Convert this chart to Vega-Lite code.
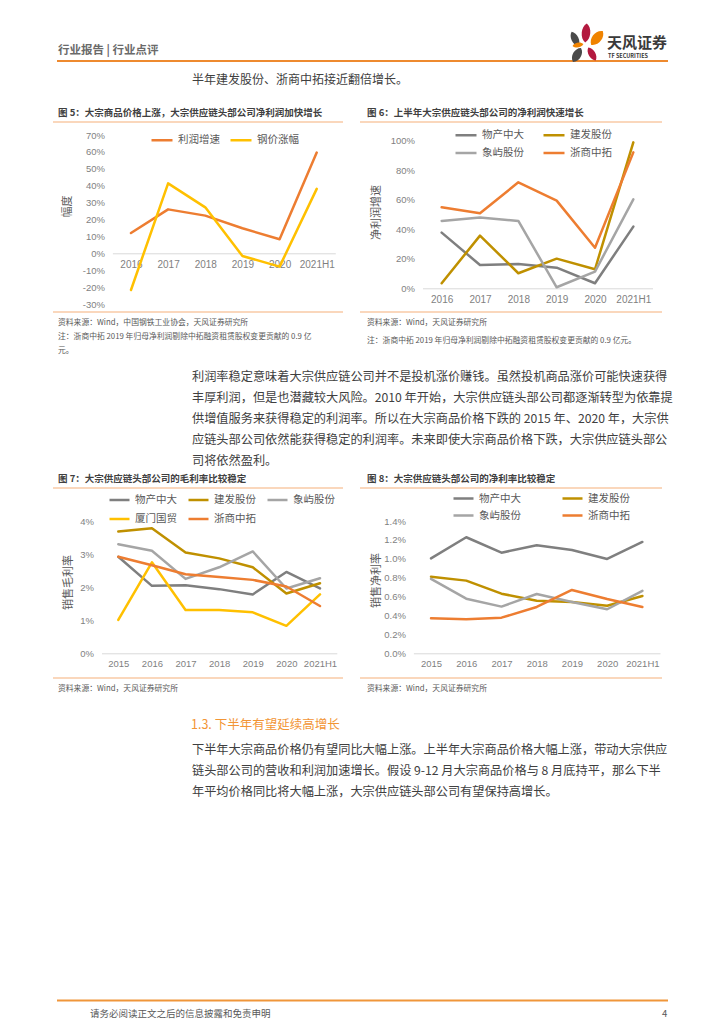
{
  "$schema": "https://vega.github.io/schema/vega-lite/v6.json",
  "width": 724,
  "height": 1024,
  "autosize": {"type": "none"},
  "padding": 0,
  "background": "white",
  "config": {
    "font": "Noto Sans CJK SC",
    "view": {"stroke": null},
    "locale": {"number": {"decimal": ".", "thousands": ",", "grouping": [3], "currency": ["", ""], "minus": "-"}},
    "line": {"strokeWidth": 2.5, "strokeJoin": "round", "strokeCap": "round"},
    "axis": {"grid": false, "ticks": false, "tickSize": 0, "labelFont": "Liberation Sans", "labelColor": "#7f7f7f", "titleFont": "Noto Sans CJK SC", "titleColor": "#595959", "titleFontWeight": "normal", "titleFontSize": 11},
    "legend": {"orient": "none", "title": null, "symbolType": "stroke", "symbolStrokeWidth": 3, "symbolSize": 441, "labelFont": "Noto Sans CJK SC", "labelFontSize": 10.5, "labelColor": "#595959", "labelOffset": 4, "padding": 0, "direction": "horizontal"}
  },
  "datasets": {
    "fig5": [
      {"year": "2016", "series": "利润增速", "value": 0.12},
      {"year": "2017", "series": "利润增速", "value": 0.26},
      {"year": "2018", "series": "利润增速", "value": 0.223},
      {"year": "2019", "series": "利润增速", "value": 0.148},
      {"year": "2020", "series": "利润增速", "value": 0.083},
      {"year": "2021H1", "series": "利润增速", "value": 0.596},
      {"year": "2016", "series": "钢价涨幅", "value": -0.217},
      {"year": "2017", "series": "钢价涨幅", "value": 0.414},
      {"year": "2018", "series": "钢价涨幅", "value": 0.272},
      {"year": "2019", "series": "钢价涨幅", "value": -0.016},
      {"year": "2020", "series": "钢价涨幅", "value": -0.079},
      {"year": "2021H1", "series": "钢价涨幅", "value": 0.381}
    ],
    "fig6": [
      {"year": "2016", "series": "物产中大", "value": 0.377},
      {"year": "2017", "series": "物产中大", "value": 0.158},
      {"year": "2018", "series": "物产中大", "value": 0.165},
      {"year": "2019", "series": "物产中大", "value": 0.14},
      {"year": "2020", "series": "物产中大", "value": 0.034},
      {"year": "2021H1", "series": "物产中大", "value": 0.418},
      {"year": "2016", "series": "建发股份", "value": 0.034},
      {"year": "2017", "series": "建发股份", "value": 0.357},
      {"year": "2018", "series": "建发股份", "value": 0.102},
      {"year": "2019", "series": "建发股份", "value": 0.201},
      {"year": "2020", "series": "建发股份", "value": 0.129},
      {"year": "2021H1", "series": "建发股份", "value": 0.989},
      {"year": "2016", "series": "象屿股份", "value": 0.456},
      {"year": "2017", "series": "象屿股份", "value": 0.479},
      {"year": "2018", "series": "象屿股份", "value": 0.456},
      {"year": "2019", "series": "象屿股份", "value": 0.007},
      {"year": "2020", "series": "象屿股份", "value": 0.113},
      {"year": "2021H1", "series": "象屿股份", "value": 0.603},
      {"year": "2016", "series": "浙商中拓", "value": 0.549},
      {"year": "2017", "series": "浙商中拓", "value": 0.508},
      {"year": "2018", "series": "浙商中拓", "value": 0.718},
      {"year": "2019", "series": "浙商中拓", "value": 0.594},
      {"year": "2020", "series": "浙商中拓", "value": 0.275},
      {"year": "2021H1", "series": "浙商中拓", "value": 0.921}
    ],
    "fig7": [
      {"year": "2015", "series": "物产中大", "value": 0.0292},
      {"year": "2016", "series": "物产中大", "value": 0.0204},
      {"year": "2017", "series": "物产中大", "value": 0.0206},
      {"year": "2018", "series": "物产中大", "value": 0.0194},
      {"year": "2019", "series": "物产中大", "value": 0.0178},
      {"year": "2020", "series": "物产中大", "value": 0.0246},
      {"year": "2021H1", "series": "物产中大", "value": 0.0196},
      {"year": "2015", "series": "建发股份", "value": 0.0368},
      {"year": "2016", "series": "建发股份", "value": 0.0378},
      {"year": "2017", "series": "建发股份", "value": 0.0305},
      {"year": "2018", "series": "建发股份", "value": 0.0287},
      {"year": "2019", "series": "建发股份", "value": 0.026},
      {"year": "2020", "series": "建发股份", "value": 0.0181},
      {"year": "2021H1", "series": "建发股份", "value": 0.0212},
      {"year": "2015", "series": "象屿股份", "value": 0.033},
      {"year": "2016", "series": "象屿股份", "value": 0.031},
      {"year": "2017", "series": "象屿股份", "value": 0.0225},
      {"year": "2018", "series": "象屿股份", "value": 0.026},
      {"year": "2019", "series": "象屿股份", "value": 0.0308},
      {"year": "2020", "series": "象屿股份", "value": 0.0196},
      {"year": "2021H1", "series": "象屿股份", "value": 0.0227},
      {"year": "2015", "series": "厦门国贸", "value": 0.0101},
      {"year": "2016", "series": "厦门国贸", "value": 0.0275},
      {"year": "2017", "series": "厦门国贸", "value": 0.0131},
      {"year": "2018", "series": "厦门国贸", "value": 0.0131},
      {"year": "2019", "series": "厦门国贸", "value": 0.0124},
      {"year": "2020", "series": "厦门国贸", "value": 0.0083},
      {"year": "2021H1", "series": "厦门国贸", "value": 0.0178},
      {"year": "2015", "series": "浙商中拓", "value": 0.0292},
      {"year": "2016", "series": "浙商中拓", "value": 0.0266},
      {"year": "2017", "series": "浙商中拓", "value": 0.0239},
      {"year": "2018", "series": "浙商中拓", "value": 0.0231},
      {"year": "2019", "series": "浙商中拓", "value": 0.0222},
      {"year": "2020", "series": "浙商中拓", "value": 0.0202},
      {"year": "2021H1", "series": "浙商中拓", "value": 0.0143}
    ],
    "fig8": [
      {"year": "2015", "series": "物产中大", "value": 0.01005},
      {"year": "2016", "series": "物产中大", "value": 0.01228},
      {"year": "2017", "series": "物产中大", "value": 0.01065},
      {"year": "2018", "series": "物产中大", "value": 0.01143},
      {"year": "2019", "series": "物产中大", "value": 0.01093},
      {"year": "2020", "series": "物产中大", "value": 0.00998},
      {"year": "2021H1", "series": "物产中大", "value": 0.01178},
      {"year": "2015", "series": "建发股份", "value": 0.00811},
      {"year": "2016", "series": "建发股份", "value": 0.00769},
      {"year": "2017", "series": "建发股份", "value": 0.00631},
      {"year": "2018", "series": "建发股份", "value": 0.00557},
      {"year": "2019", "series": "建发股份", "value": 0.00543},
      {"year": "2020", "series": "建发股份", "value": 0.00504},
      {"year": "2021H1", "series": "建发股份", "value": 0.00607},
      {"year": "2015", "series": "象屿股份", "value": 0.00787},
      {"year": "2016", "series": "象屿股份", "value": 0.00578},
      {"year": "2017", "series": "象屿股份", "value": 0.00494},
      {"year": "2018", "series": "象屿股份", "value": 0.00628},
      {"year": "2019", "series": "象屿股份", "value": 0.00543},
      {"year": "2020", "series": "象屿股份", "value": 0.00466},
      {"year": "2021H1", "series": "象屿股份", "value": 0.0066},
      {"year": "2015", "series": "浙商中拓", "value": 0.0037},
      {"year": "2016", "series": "浙商中拓", "value": 0.0036},
      {"year": "2017", "series": "浙商中拓", "value": 0.00377},
      {"year": "2018", "series": "浙商中拓", "value": 0.0049},
      {"year": "2019", "series": "浙商中拓", "value": 0.0067},
      {"year": "2020", "series": "浙商中拓", "value": 0.00575},
      {"year": "2021H1", "series": "浙商中拓", "value": 0.0049}
    ]
  },
  "layer": [
    {"data": {"values": [{}]}, "mark": {"type": "text", "text": "行业报告 | 行业点评", "align": "left", "baseline": "middle", "fontSize": 11.5, "fontWeight": "bold", "color": "#6a6a6a"}, "encoding": {"x": {"value": 58}, "y": {"value": 51}}},
    {"data": {"values": [{}]}, "mark": {"type": "rule", "color": "#EE8A2F", "strokeWidth": 2}, "encoding": {"x": {"value": 57}, "x2": {"value": 668}, "y": {"value": 61}}},
    {"data": {"values": [{}]}, "mark": {"type": "point", "shape": "M0,-1C0.6,-0.6 0.6,0.6 0,1C-0.6,0.6 -0.6,-0.6 0,-1Z", "filled": true, "color": "#B3193F", "opacity": 1, "size": 361, "angle": 5}, "encoding": {"x": {"value": 586}, "y": {"value": 33}}},
    {"data": {"values": [{}]}, "mark": {"type": "point", "shape": "M0,-1C0.6,-0.6 0.6,0.6 0,1C-0.6,0.6 -0.6,-0.6 0,-1Z", "filled": true, "color": "#4A4A4A", "opacity": 1, "size": 256, "angle": -25}, "encoding": {"x": {"value": 575}, "y": {"value": 39}}},
    {"data": {"values": [{}]}, "mark": {"type": "point", "shape": "M0,-1C0.7,-0.6 0.7,0.6 0,1C-0.7,0.6 -0.7,-0.6 0,-1Z", "filled": true, "color": "#F08300", "opacity": 1, "size": 324, "angle": 40}, "encoding": {"x": {"value": 597}, "y": {"value": 38}}},
    {"data": {"values": [{}]}, "mark": {"type": "point", "shape": "M0,-1C0.6,-0.6 0.6,0.6 0,1C-0.6,0.6 -0.6,-0.6 0,-1Z", "filled": true, "color": "#F08300", "opacity": 1, "size": 121, "angle": 80}, "encoding": {"x": {"value": 578}, "y": {"value": 45}}},
    {"data": {"values": [{}]}, "mark": {"type": "point", "shape": "M0,-1C0.6,-0.6 0.6,0.6 0,1C-0.6,0.6 -0.6,-0.6 0,-1Z", "filled": true, "color": "#B3193F", "opacity": 1, "size": 225, "angle": -30}, "encoding": {"x": {"value": 592}, "y": {"value": 54}}},
    {"data": {"values": [{}]}, "mark": {"type": "point", "shape": "M0,-1C0.7,-0.6 0.7,0.6 0,1C-0.7,0.6 -0.7,-0.6 0,-1Z", "filled": true, "color": "#4A4A4A", "opacity": 1, "size": 256, "angle": 30}, "encoding": {"x": {"value": 577}, "y": {"value": 55}}},
    {"data": {"values": [{}]}, "mark": {"type": "text", "text": "天风证券", "align": "left", "baseline": "middle", "fontSize": 15, "fontWeight": "bold", "color": "#3a3a3a"}, "encoding": {"x": {"value": 607}, "y": {"value": 43}}},
    {"data": {"values": [{}]}, "mark": {"type": "text", "text": "TF SECURITIES", "align": "left", "baseline": "middle", "fontSize": 5.5, "fontWeight": "bold", "color": "#3a3a3a"}, "encoding": {"x": {"value": 608}, "y": {"value": 55.5}}},
    {"data": {"values": [{}]}, "mark": {"type": "text", "text": "半年建发股份、浙商中拓接近翻倍增长。", "align": "left", "baseline": "middle", "fontSize": 12, "color": "#404040"}, "encoding": {"x": {"value": 192}, "y": {"value": 80}}},

    {"data": {"values": [{}]}, "mark": {"type": "text", "text": "图 5：大宗商品价格上涨，大宗供应链头部公司净利润加快增长", "align": "left", "baseline": "middle", "fontSize": 9.5, "fontWeight": "bold", "color": "#404040"}, "encoding": {"x": {"value": 58}, "y": {"value": 112.5}}},
    {"data": {"values": [{}]}, "mark": {"type": "text", "text": "图 6：上半年大宗供应链头部公司的净利润快速增长", "align": "left", "baseline": "middle", "fontSize": 9.5, "fontWeight": "bold", "color": "#404040"}, "encoding": {"x": {"value": 367}, "y": {"value": 112.5}}},
    {"data": {"values": [{}]}, "mark": {"type": "rule", "color": "#F5B07A", "strokeWidth": 1.2}, "encoding": {"x": {"value": 53}, "x2": {"value": 343}, "y": {"value": 122}}},
    {"data": {"values": [{}]}, "mark": {"type": "rule", "color": "#F5B07A", "strokeWidth": 1.2}, "encoding": {"x": {"value": 360}, "x2": {"value": 662}, "y": {"value": 122}}},
    {"data": {"values": [{}]}, "mark": {"type": "rule", "color": "#F5B07A", "strokeWidth": 1.2}, "encoding": {"x": {"value": 53}, "x2": {"value": 343}, "y": {"value": 312}}},
    {"data": {"values": [{}]}, "mark": {"type": "rule", "color": "#F5B07A", "strokeWidth": 1.2}, "encoding": {"x": {"value": 360}, "x2": {"value": 662}, "y": {"value": 312}}},
    {"data": {"values": [{}]}, "mark": {"type": "text", "text": "资料来源：Wind，中国钢铁工业协会，天风证券研究所", "align": "left", "baseline": "middle", "fontSize": 7.8, "color": "#595959"}, "encoding": {"x": {"value": 58}, "y": {"value": 323}}},
    {"data": {"values": [{}]}, "mark": {"type": "text", "text": "注：浙商中拓 2019 年归母净利润剔除中拓融资租赁股权变更贡献的 0.9 亿", "align": "left", "baseline": "middle", "fontSize": 7.8, "color": "#595959"}, "encoding": {"x": {"value": 58}, "y": {"value": 337}}},
    {"data": {"values": [{}]}, "mark": {"type": "text", "text": "元。", "align": "left", "baseline": "middle", "fontSize": 7.8, "color": "#595959"}, "encoding": {"x": {"value": 58}, "y": {"value": 351}}},
    {"data": {"values": [{}]}, "mark": {"type": "text", "text": "资料来源：Wind，天风证券研究所", "align": "left", "baseline": "middle", "fontSize": 7.8, "color": "#595959"}, "encoding": {"x": {"value": 367}, "y": {"value": 323}}},
    {"data": {"values": [{}]}, "mark": {"type": "text", "text": "注：浙商中拓 2019 年归母净利润剔除中拓融资租赁股权变更贡献的 0.9 亿元。", "align": "left", "baseline": "middle", "fontSize": 7.8, "color": "#595959"}, "encoding": {"x": {"value": 367}, "y": {"value": 341}}},

    {"data": {"values": [{}]}, "mark": {"type": "text", "text": "利润率稳定意味着大宗供应链公司并不是投机涨价赚钱。虽然投机商品涨价可能快速获得\n丰厚利润，但是也潜藏较大风险。2010 年开始，大宗供应链头部公司都逐渐转型为依靠提\n供增值服务来获得稳定的利润率。所以在大宗商品价格下跌的 2015 年、2020 年，大宗供\n应链头部公司依然能获得稳定的利润率。未来即使大宗商品价格下跌，大宗供应链头部公\n司将依然盈利。", "lineBreak": "\n", "lineHeight": 21, "align": "left", "baseline": "top", "fontSize": 12.2, "color": "#404040"}, "encoding": {"x": {"value": 192}, "y": {"value": 371}}},

    {"data": {"values": [{}]}, "mark": {"type": "text", "text": "图 7：大宗供应链头部公司的毛利率比较稳定", "align": "left", "baseline": "middle", "fontSize": 9.5, "fontWeight": "bold", "color": "#404040"}, "encoding": {"x": {"value": 58}, "y": {"value": 479}}},
    {"data": {"values": [{}]}, "mark": {"type": "text", "text": "图 8：大宗供应链头部公司的净利率比较稳定", "align": "left", "baseline": "middle", "fontSize": 9.5, "fontWeight": "bold", "color": "#404040"}, "encoding": {"x": {"value": 367}, "y": {"value": 479}}},
    {"data": {"values": [{}]}, "mark": {"type": "rule", "color": "#F5B07A", "strokeWidth": 1.2}, "encoding": {"x": {"value": 53}, "x2": {"value": 343}, "y": {"value": 488}}},
    {"data": {"values": [{}]}, "mark": {"type": "rule", "color": "#F5B07A", "strokeWidth": 1.2}, "encoding": {"x": {"value": 360}, "x2": {"value": 662}, "y": {"value": 488}}},
    {"data": {"values": [{}]}, "mark": {"type": "rule", "color": "#F5B07A", "strokeWidth": 1.2}, "encoding": {"x": {"value": 53}, "x2": {"value": 343}, "y": {"value": 678}}},
    {"data": {"values": [{}]}, "mark": {"type": "rule", "color": "#F5B07A", "strokeWidth": 1.2}, "encoding": {"x": {"value": 360}, "x2": {"value": 662}, "y": {"value": 678}}},
    {"data": {"values": [{}]}, "mark": {"type": "text", "text": "资料来源：Wind，天风证券研究所", "align": "left", "baseline": "middle", "fontSize": 7.8, "color": "#595959"}, "encoding": {"x": {"value": 58}, "y": {"value": 689}}},
    {"data": {"values": [{}]}, "mark": {"type": "text", "text": "资料来源：Wind，天风证券研究所", "align": "left", "baseline": "middle", "fontSize": 7.8, "color": "#595959"}, "encoding": {"x": {"value": 367}, "y": {"value": 689}}},

    {"data": {"values": [{}]}, "mark": {"type": "text", "text": "1.3. 下半年有望延续高增长", "align": "left", "baseline": "middle", "fontSize": 12.5, "color": "#F29535"}, "encoding": {"x": {"value": 191}, "y": {"value": 725}}},
    {"data": {"values": [{}]}, "mark": {"type": "text", "text": "下半年大宗商品价格仍有望同比大幅上涨。上半年大宗商品价格大幅上涨，带动大宗供应\n链头部公司的营收和利润加速增长。假设 9-12 月大宗商品价格与 8 月底持平，那么下半\n年平均价格同比将大幅上涨，大宗供应链头部公司有望保持高增长。", "lineBreak": "\n", "lineHeight": 21, "align": "left", "baseline": "top", "fontSize": 12.2, "color": "#404040"}, "encoding": {"x": {"value": 192}, "y": {"value": 744}}},

    {"data": {"values": [{}]}, "mark": {"type": "rule", "color": "#F0963A", "strokeWidth": 2}, "encoding": {"x": {"value": 57}, "x2": {"value": 668}, "y": {"value": 1000.5}}},
    {"data": {"values": [{}]}, "mark": {"type": "text", "text": "请务必阅读正文之后的信息披露和免责申明", "align": "left", "baseline": "middle", "fontSize": 9.5, "color": "#595959"}, "encoding": {"x": {"value": 90}, "y": {"value": 1014}}},
    {"data": {"values": [{}]}, "mark": {"type": "text", "text": "4", "align": "left", "baseline": "middle", "fontSize": 9.5, "color": "#595959"}, "encoding": {"x": {"value": 662}, "y": {"value": 1014}}},

    {
      "data": {"name": "fig5"},
      "mark": {"type": "line"},
      "encoding": {
        "x": {"field": "year", "type": "ordinal", "scale": {"type": "point", "domain": ["2016", "2017", "2018", "2019", "2020", "2021H1"], "range": [112.4, 335.3], "padding": 0.5},
              "axis": {"orient": "bottom", "offset": -770.7, "title": null, "domain": true, "domainColor": "#D9D9D9", "domainWidth": 1, "labelPadding": 6, "labelFontSize": 10, "labelAngle": 0}},
        "y": {"field": "value", "type": "quantitative", "scale": {"domain": [-0.3, 0.7], "range": [304, 135], "nice": false, "zero": false},
              "axis": {"orient": "left", "offset": -112.4, "values": [-0.3, -0.2, -0.1, 0, 0.1, 0.2, 0.3, 0.4, 0.5, 0.6, 0.7], "format": ".0%", "domain": false, "labelPadding": 8, "labelFontSize": 9.5, "title": "幅度", "titleX": -45, "titleY": 206, "titleAngle": 270, "titleAlign": "center", "titleBaseline": "middle"}},
        "color": {"field": "series", "type": "nominal", "scale": {"domain": ["利润增速", "钢价涨幅"], "range": ["#ED7D31", "#FFC000"]},
                  "legend": {"legendX": 150, "legendY": 128, "columns": 2, "columnPadding": 9}}
      }
    },
    {
      "data": {"name": "fig6"},
      "mark": {"type": "line"},
      "encoding": {
        "x": {"field": "year", "type": "ordinal", "scale": {"type": "point", "domain": ["2016", "2017", "2018", "2019", "2020", "2021H1"], "range": [422.5, 652.5], "padding": 0.5},
              "axis": {"orient": "bottom", "offset": -735.7, "title": null, "domain": true, "domainColor": "#D9D9D9", "domainWidth": 1, "labelPadding": 6, "labelFontSize": 10, "labelAngle": 0}},
        "y": {"field": "value", "type": "quantitative", "scale": {"domain": [0, 1], "range": [288.3, 140.7], "nice": false, "zero": false},
              "axis": {"orient": "left", "offset": -422.5, "values": [0, 0.2, 0.4, 0.6, 0.8, 1], "format": ".0%", "domain": false, "labelPadding": 8, "labelFontSize": 9.5, "title": "净利润增速", "titleX": -46.5, "titleY": 212, "titleAngle": 270, "titleAlign": "center", "titleBaseline": "middle"}},
        "color": {"field": "series", "type": "nominal", "scale": {"domain": ["物产中大", "建发股份", "象屿股份", "浙商中拓"], "range": ["#7F7F7F", "#BF9000", "#A5A5A5", "#ED7D31"]},
                  "legend": {"legendX": 454, "legendY": 123, "columns": 2, "columnPadding": 18, "rowPadding": -1}}
      }
    },
    {
      "data": {"name": "fig7"},
      "mark": {"type": "line"},
      "encoding": {
        "x": {"field": "year", "type": "ordinal", "scale": {"type": "point", "domain": ["2015", "2016", "2017", "2018", "2019", "2020", "2021H1"], "range": [101.5, 336.8], "padding": 0.5},
              "axis": {"orient": "bottom", "offset": -370.7, "title": null, "domain": true, "domainColor": "#D9D9D9", "domainWidth": 1, "labelPadding": 5, "labelFontSize": 9.5, "labelAngle": 0}},
        "y": {"field": "value", "type": "quantitative", "scale": {"domain": [0, 0.04], "range": [653.3, 521], "nice": false, "zero": false},
              "axis": {"orient": "left", "offset": -101.5, "values": [0, 0.01, 0.02, 0.03, 0.04], "format": ".0%", "domain": false, "labelPadding": 8, "labelFontSize": 9.5, "title": "销售毛利率", "titleX": -33.5, "titleY": 582, "titleAngle": 270, "titleAlign": "center", "titleBaseline": "middle"}},
        "color": {"field": "series", "type": "nominal", "scale": {"domain": ["物产中大", "建发股份", "象屿股份", "厦门国贸", "浙商中拓"], "range": ["#7F7F7F", "#BF9000", "#A5A5A5", "#FFC000", "#ED7D31"]},
                  "legend": {"legendX": 108, "legendY": 488.5, "columns": 3, "columnPadding": 10, "rowPadding": 2, "symbolSize": 400}}
      }
    },
    {
      "data": {"name": "fig8"},
      "mark": {"type": "line"},
      "encoding": {
        "x": {"field": "year", "type": "ordinal", "scale": {"type": "point", "domain": ["2015", "2016", "2017", "2018", "2019", "2020", "2021H1"], "range": [413.4, 660], "padding": 0.5},
              "axis": {"orient": "bottom", "offset": -370.7, "title": null, "domain": true, "domainColor": "#D9D9D9", "domainWidth": 1, "labelPadding": 5, "labelFontSize": 9.5, "labelAngle": 0}},
        "y": {"field": "value", "type": "quantitative", "scale": {"domain": [0, 0.014], "range": [653.3, 521], "nice": false, "zero": false},
              "axis": {"orient": "left", "offset": -413.4, "values": [0, 0.002, 0.004, 0.006, 0.008, 0.01, 0.012, 0.014], "format": ".1%", "domain": false, "labelPadding": 8, "labelFontSize": 9.5, "title": "销售净利率", "titleX": -37.4, "titleY": 580, "titleAngle": 270, "titleAlign": "center", "titleBaseline": "middle"}},
        "color": {"field": "series", "type": "nominal", "scale": {"domain": ["物产中大", "建发股份", "象屿股份", "浙商中拓"], "range": ["#7F7F7F", "#BF9000", "#A5A5A5", "#ED7D31"]},
                  "legend": {"legendX": 452, "legendY": 487, "columns": 2, "columnPadding": 40, "rowPadding": 0, "symbolSize": 400}}
      }
    }
  ],
  "resolve": {
    "scale": {"x": "independent", "y": "independent", "color": "independent"},
    "axis": {"x": "independent", "y": "independent"},
    "legend": {"color": "independent"}
  }
}
